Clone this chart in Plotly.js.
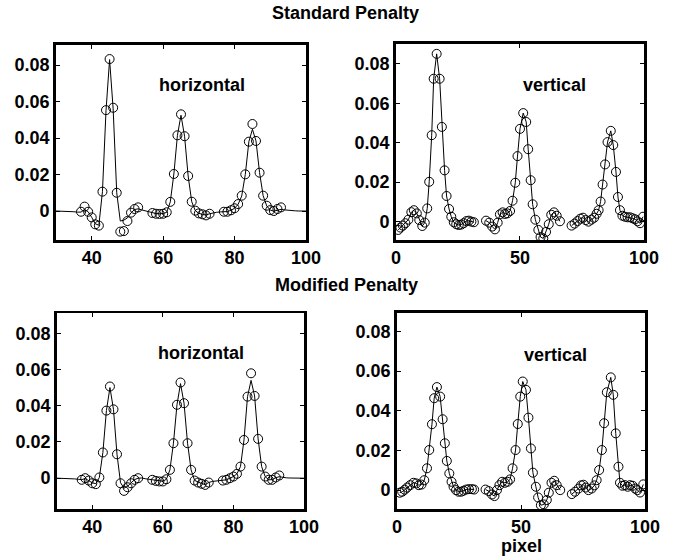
<!DOCTYPE html>
<html><head><meta charset="utf-8">
<script src="https://cdn.plot.ly/plotly-3.0.1.min.js"></script>
<style>html,body{margin:0;padding:0;background:#fff}#chart{width:674px;height:557px}</style>
</head><body><div id="chart"></div>
<script>
// ---------- DATA ----------
const hLineX = [30,31,32,33,34,35,36,37,38,39,40,41,42,43,44,45,46,47,48,49,50,51,52,53,54,55,56,57,58,59,60,61,62,63,64,65,66,67,68,69,70,71,72,73,74,75,76,77,78,79,80,81,82,83,84,85,86,87,88,89,90,91,92,93,94,95,96,97,98,99,100];
const stdHLineY = [0,0,0,-0.0001,-0.0002,-0.0004,-0.0006,-0.0006,0.0008,-0.0004,-0.0035,-0.007,-0.0078,0.0106,0.055,0.083,0.056,0.010,-0.0055,-0.005,-0.0038,-0.001,0.0008,0.0012,0.0006,0,-0.0006,-0.0011,-0.0014,-0.0015,-0.0014,-0.0007,0.005,0.0203,0.0415,0.0525,0.041,0.0192,0.0051,0.0002,-0.0013,-0.0018,-0.0022,-0.0015,-0.001,-0.0007,-0.0005,-0.0004,-0.0003,0.0004,0.0015,0.0037,0.0082,0.02,0.038,0.0448,0.0384,0.021,0.0084,0.0028,0.0005,-0.0001,0.0006,0.0009,0.0006,0.0003,0.0002,0.0001,0,0,0];
const modHLineY = [0,0,0,-0.0001,-0.0002,-0.0004,-0.0006,-0.0008,-0.0002,-0.0012,-0.0026,-0.003,0.0004,0.0142,0.0373,0.050,0.038,0.0132,-0.0025,-0.0055,-0.0045,-0.0025,-0.0008,0,0.0001,-0.0003,-0.0006,-0.0009,-0.0014,-0.0017,-0.0017,-0.0006,0.0046,0.0193,0.0405,0.0522,0.0414,0.0193,0.0046,-0.0012,-0.0023,-0.003,-0.0035,-0.0024,-0.0018,-0.0015,-0.0014,-0.0013,-0.0009,0,0.0009,0.0024,0.0064,0.0211,0.045,0.054,0.0454,0.0217,0.0064,0.0009,-0.0009,-0.0008,0.0003,0.0008,0.0004,0.0002,0.0001,0,0,0,0];

const hMarkX = [37,38,39,40,41,42,43,44,45,46,47,48,49,50,51,52,53,57,58,59,60,61,62,63,64,65,66,67,68,69,70,71,72,73,77,78,79,80,81,82,83,84,85,86,87,88,89,90,91,92,93];
const stdHMarkY = [-0.0004,0.0024,-0.0004,-0.0035,-0.0073,-0.008,0.0106,0.0553,0.0833,0.0566,0.0100,-0.0113,-0.0110,-0.0055,-0.0009,0.0011,0.0020,-0.0011,-0.0015,-0.0016,-0.0015,-0.0007,0.0050,0.0203,0.0415,0.0530,0.0410,0.0192,0.0051,0.0002,-0.0013,-0.0018,-0.0024,-0.0015,-0.0004,-0.0004,0.0004,0.0015,0.0038,0.0084,0.0201,0.0380,0.0477,0.0384,0.0210,0.0084,0.0029,0.0005,0.0000,0.0011,0.0020];
const modHMarkY = [-0.0009,0.0000,-0.0013,-0.0028,-0.0033,0.0004,0.0142,0.0373,0.0506,0.0380,0.0132,-0.0028,-0.0070,-0.0050,-0.0028,-0.0009,0.0000,-0.0009,-0.0015,-0.0018,-0.0018,-0.0006,0.0046,0.0193,0.0405,0.0528,0.0414,0.0193,0.0046,-0.0013,-0.0024,-0.0031,-0.0037,-0.0024,-0.0013,-0.0009,0.0000,0.0009,0.0024,0.0064,0.0211,0.0450,0.0579,0.0454,0.0217,0.0064,0.0009,-0.0009,-0.0009,0.0004,0.0015];

const stdVX = [0.9,1.8,2.8,3.8,5.0,6.2,7.2,8.4,9.4,10.6,11.6,12.6,13.4,14.4,15.2,16.4,17.6,18.5,19.6,20.4,21.4,22.3,23.3,24.3,25.3,26.3,27.3,28.4,29.4,30.4,31.4,null,36.3,37.6,38.8,39.9,41.0,41.9,43.0,43.9,44.9,46.0,47.0,48.1,49.0,50.0,51.3,52.5,53.3,54.3,55.1,56.2,57.4,58.3,59.4,60.5,61.6,62.6,63.7,64.8,66.1,null,70.8,72.0,73.2,74.3,75.4,76.5,77.6,78.8,79.9,80.9,81.7,82.5,83.3,84.3,85.3,86.6,87.6,88.7,89.5,90.3,91.3,92.3,93.4,94.4,95.4,96.4,97.4,98.4,99.6];
const stdVY = [-0.0042,-0.0030,-0.0020,-0.0008,0.0010,0.0048,0.0058,0.0042,0.0008,-0.0022,-0.0005,0.0067,0.0202,0.0438,0.0724,0.0850,0.0724,0.0480,0.0260,0.0130,0.0064,0.0025,-0.0003,-0.0013,-0.0017,-0.0015,-0.0008,0.0003,0.0005,0.0000,-0.0003,null,0.0005,-0.0005,-0.0025,-0.0039,-0.0005,0.0037,0.0047,0.0039,0.0042,0.0054,0.0106,0.0197,0.0332,0.0470,0.0550,0.0505,0.0367,0.0210,0.0088,0.0010,-0.0042,-0.0078,-0.0085,-0.0052,-0.0013,0.0035,0.0047,0.0030,0.0002,null,-0.0020,-0.0010,0.0003,0.0015,0.0020,0.0008,0.0000,0.0010,0.0020,0.0040,0.0058,0.0102,0.0188,0.0290,0.0403,0.0460,0.0388,0.0252,0.0125,0.0058,0.0030,0.0025,0.0022,0.0022,0.0017,0.0012,0.0002,-0.0008,0.0025];

const modVX = [1.1,2.1,3.1,4.1,5.3,6.6,7.8,8.8,9.9,11.0,12.1,13.0,14.1,15.0,16.1,17.4,18.4,19.3,20.1,21.1,22.0,22.8,23.8,24.8,25.9,26.8,27.9,29.0,30.2,31.1,null,35.7,37.0,38.3,39.3,40.3,41.3,42.4,43.5,44.6,45.6,46.6,47.8,48.7,49.7,50.7,52.0,53.0,54.0,54.8,56.0,56.9,58.0,59.2,60.4,61.2,62.3,63.4,64.4,65.8,null,70.5,71.8,73.2,74.2,75.2,76.1,77.2,78.5,79.6,80.5,81.5,82.6,83.5,84.6,86.2,87.2,88.2,89.3,89.9,90.9,91.9,93.0,93.9,95.0,96.0,96.9,98.0,99.3];
const modVY = [-0.0013,-0.0008,0.0002,0.0013,0.0025,0.0037,0.0034,0.0025,0.0028,0.0050,0.0110,0.0202,0.0332,0.0463,0.0519,0.0471,0.0357,0.0236,0.0147,0.0084,0.0042,0.0017,0.0000,-0.0008,-0.0008,-0.0003,0.0003,0.0005,0.0005,0.0003,null,0.0003,-0.0005,-0.0022,-0.0030,0.0000,0.0025,0.0042,0.0037,0.0042,0.0054,0.0110,0.0202,0.0333,0.0471,0.0547,0.0505,0.0365,0.0210,0.0088,0.0017,-0.0037,-0.0076,-0.0072,-0.0050,-0.0013,0.0037,0.0047,0.0025,0.0000,null,-0.0020,-0.0008,0.0008,0.0024,0.0027,0.0013,0.0000,0.0008,0.0024,0.0050,0.0101,0.0202,0.0337,0.0493,0.0568,0.0480,0.0286,0.0118,0.0037,0.0022,0.0025,0.0017,0.0025,0.0022,0.0008,0.0000,-0.0012,0.0029];

const hTickVals = [40,60,80,100];
const vTickVals = [0,50,100];
const yTickVals = [0,0.02,0.04,0.06,0.08];
const yTickText = ['0','0.02','0.04','0.06','0.08'];
const panelTitles = ['Standard Penalty','Modified Penalty'];
const panelLabels = ['horizontal','vertical'];
const xLabel = 'pixel';

// ---------- TRACES ----------
const lineStyle = {color:'#000', width:1};
const markStyle = {symbol:'circle-open', size:9, color:'#000', line:{width:1, color:'#000'}};
function lineTr(x,y,xa,ya){return {x:x,y:y,xaxis:xa,yaxis:ya,type:'scatter',mode:'lines',line:lineStyle,connectgaps:false,hoverinfo:'skip'};}
function markTr(x,y,xa,ya){return {x:x,y:y,xaxis:xa,yaxis:ya,type:'scatter',mode:'markers',marker:markStyle,hoverinfo:'skip'};}

const data = [
  lineTr(hLineX, stdHLineY, 'x','y'), markTr(hMarkX, stdHMarkY, 'x','y'),
  lineTr(stdVX, stdVY, 'x2','y2'), markTr(stdVX, stdVY, 'x2','y2'),
  lineTr(hLineX, modHLineY, 'x3','y3'), markTr(hMarkX, modHMarkY, 'x3','y3'),
  lineTr(modVX, modVY, 'x4','y4'), markTr(modVX, modVY, 'x4','y4')
];

const font = {family:'Liberation Sans, Arial, Helvetica, sans-serif', size:18, color:'#000', weight:'bold'};
function xax(dom, range, tv, anchor){return {domain:dom, range:range, tickvals:tv, ticktext:tv.map(String), anchor:anchor,
  showline:true, mirror:'ticks', linewidth:2.8, linecolor:'#000', ticks:'inside', ticklen:4, tickwidth:1, tickcolor:'#000',
  showgrid:false, zeroline:false, tickfont:font, fixedrange:true};}
function yax(dom, range, anchor){return {domain:dom, range:range, tickvals:yTickVals, ticktext:yTickText, anchor:anchor,
  showline:true, mirror:'ticks', linewidth:2.8, linecolor:'#000', ticks:'inside', ticklen:4, tickwidth:1, tickcolor:'#000',
  showgrid:false, zeroline:false, tickfont:font, fixedrange:true};}

const layout = {
  width:674, height:557, margin:{l:0,r:0,t:0,b:0}, showlegend:false,
  paper_bgcolor:'#fff', plot_bgcolor:'#fff', font:font,
  xaxis: xax([0.0831,0.454],[30,100],hTickVals,'y'),
  yaxis: yax([0.5691,0.9192],[-0.0159,0.091],'x'),
  xaxis2: xax([0.5875,0.9555],[0,100],vTickVals,'y2'),
  yaxis2: yax([0.5691,0.9210],[-0.0093,0.09],'x2'),
  xaxis3: xax([0.0846,0.4510],[30,100],hTickVals,'y3'),
  yaxis3: yax([0.0862,0.4375],[-0.017,0.091],'x3'),
  xaxis4: xax([0.589,0.957],[0,100],vTickVals,'y4'),
  yaxis4: yax([0.0862,0.438],[-0.0095,0.0892],'x4'),
  annotations: [
    {text:panelTitles[0], xref:'paper', yref:'paper', x:345/674, y:1-13/557, showarrow:false, font:font, xanchor:'center', yanchor:'middle'},
    {text:panelTitles[1], xref:'paper', yref:'paper', x:346/674, y:1-285/557, showarrow:false, font:font, xanchor:'center', yanchor:'middle'},
    {text:xLabel, xref:'paper', yref:'paper', x:521/674, y:0, showarrow:false, font:font, xanchor:'center', yanchor:'bottom', borderpad:0},
    {text:panelLabels[0], xref:'x', yref:'y', x:70.9, y:0.069, showarrow:false, font:font},
    {text:panelLabels[1], xref:'x2', yref:'y2', x:64.1, y:0.069, showarrow:false, font:font},
    {text:panelLabels[0], xref:'x3', yref:'y3', x:70.9, y:0.069, showarrow:false, font:font},
    {text:panelLabels[1], xref:'x4', yref:'y4', x:64.1, y:0.068, showarrow:false, font:font}
  ]
};
Plotly.newPlot('chart', data, layout, {staticPlot:true, displayModeBar:false});
</script></body></html>
